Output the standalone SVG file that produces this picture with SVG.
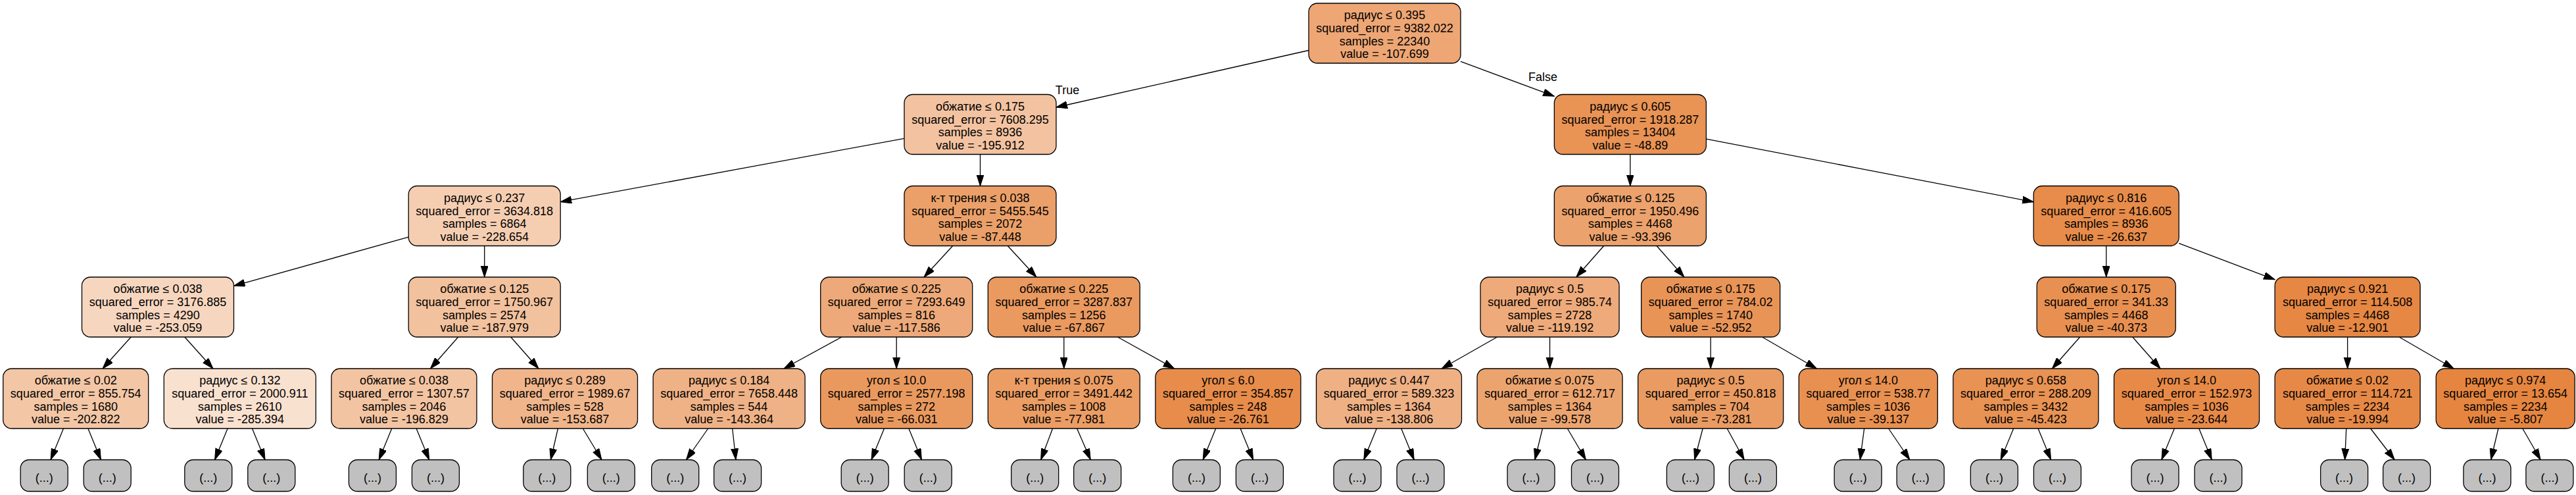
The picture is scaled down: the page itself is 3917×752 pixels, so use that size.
<svg xmlns="http://www.w3.org/2000/svg" width="3917" height="752" viewBox="0 0 3917 752">
<defs>
<style>
.n rect{stroke:#000;stroke-width:1.3}
.n text{font-family:"Liberation Sans",Arial,Helvetica,sans-serif;font-size:18px;text-anchor:middle;fill:#000}
.lf rect{fill:#c0c0c0}
.e path{fill:none;stroke:#000;stroke-width:1.3;marker-end:url(#ah)}
.el{font-family:"Liberation Sans",Arial,Helvetica,sans-serif;font-size:18px;text-anchor:middle;fill:#000}
</style>
<marker id="ah" markerWidth="18" markerHeight="12" refX="17" refY="5.5" orient="auto" markerUnits="userSpaceOnUse"><path d="M0,0 L17,5.5 L0,11 z" fill="#000" stroke="#000" stroke-width="1"/></marker>
</defs>
<rect width="3917" height="752" fill="#fff"/>
<g id="connectors" class="e">
<path d="M1990,76.5 L1606,163"/>
<path d="M2221,93.3 L2363.4,146.2"/>
<path d="M1375,210.3 L852.2,306.7"/>
<path d="M1490.5,234.5 L1490.5,282.5"/>
<path d="M2478.9,234.5 L2478.9,282.5"/>
<path d="M2594.4,211.2 L3092.2,306.8"/>
<path d="M621.2,360.2 L355.5,434.3"/>
<path d="M736.7,373.5 L736.7,421"/>
<path d="M1448.7,373.5 L1405,421"/>
<path d="M1532.3,373.5 L1576,421"/>
<path d="M2438.7,373.5 L2396.8,421"/>
<path d="M2519.1,373.5 L2561,421"/>
<path d="M3202.7,373.5 L3202.7,421"/>
<path d="M3313.2,369.7 L3459.1,424.8"/>
<path d="M199.2,512 L156,560"/>
<path d="M280.8,512 L324,560"/>
<path d="M696.7,512 L654.4,560"/>
<path d="M776.7,512 L819,560"/>
<path d="M1279.9,512 L1191.9,560"/>
<path d="M1363.2,512 L1363.2,560"/>
<path d="M1617.8,512 L1617.8,560"/>
<path d="M1699.5,512 L1785.7,560"/>
<path d="M2276.5,512 L2192.1,560"/>
<path d="M2356.6,512 L2356.6,560"/>
<path d="M2601.2,512 L2601.2,560"/>
<path d="M2679.6,512 L2762.4,560"/>
<path d="M3162.7,512 L3120.4,560"/>
<path d="M3242.7,512 L3285,560"/>
<path d="M3569.6,512 L3569.6,560"/>
<path d="M3648.2,512 L3731.1,560"/>
<path d="M96.5,651 L77,698.5"/><path d="M133.9,651 L153.4,698.5"/>
<path d="M346.1,651 L326.6,698.5"/><path d="M383.5,651 L403,698.5"/>
<path d="M595.7,651 L576.2,698.5"/><path d="M633.1,651 L652.6,698.5"/>
<path d="M848.4,651 L837.4,698.5"/><path d="M886.3,651 L914.9,698.5"/>
<path d="M1076.7,651 L1043.5,698.5"/><path d="M1113.7,651 L1118.9,698.5"/>
<path d="M1344.5,651 L1325,698.5"/><path d="M1381.9,651 L1401.4,698.5"/>
<path d="M1600.6,651 L1582.7,698.5"/><path d="M1637.6,651 L1658.3,698.5"/>
<path d="M1848.7,651 L1829.2,698.5"/><path d="M1886.1,651 L1905.6,698.5"/>
<path d="M2093.3,651 L2073.8,698.5"/><path d="M2130.7,651 L2150.2,698.5"/>
<path d="M2345.5,651 L2333.9,698.5"/><path d="M2383.4,651 L2411.4,698.5"/>
<path d="M2589.2,651 L2576.7,698.5"/><path d="M2626.2,651 L2652.2,698.5"/>
<path d="M2834.7,651 L2828.4,698.5"/><path d="M2871.7,651 L2903.9,698.5"/>
<path d="M3061.7,651 L3042.2,698.5"/><path d="M3099.1,651 L3118.6,698.5"/>
<path d="M3306.3,651 L3286.8,698.5"/><path d="M3343.7,651 L3363.2,698.5"/>
<path d="M3567.7,651 L3565.6,698.5"/><path d="M3604.6,651 L3641.1,698.5"/>
<path d="M3798.9,651 L3787.6,698.5"/><path d="M3835.8,651 L3863.1,698.5"/>
<text class="el" x="1623" y="143">True</text>
<text class="el" x="2346" y="123">False</text>
</g>
<g id="root" class="n" transform="translate(1990,5)"><rect width="231" height="91" rx="13" fill="#eda674"/><text x="115.5" y="24.3">радиус ≤ 0.395</text><text x="115.5" y="44">squared_error = 9382.022</text><text x="115.5" y="63.7">samples = 22340</text><text x="115.5" y="83.4">value = -107.699</text></g>
<g id="n1_1" class="n" transform="translate(1375,143.5)"><rect width="231" height="91" rx="13" fill="#f3c3a1"/><text x="115.5" y="24.3">обжатие ≤ 0.175</text><text x="115.5" y="44">squared_error = 7608.295</text><text x="115.5" y="63.7">samples = 8936</text><text x="115.5" y="83.4">value = -195.912</text></g>
<g id="n1_2" class="n" transform="translate(2363.4,143.5)"><rect width="231" height="91" rx="13" fill="#e99355"/><text x="115.5" y="24.3">радиус ≤ 0.605</text><text x="115.5" y="44">squared_error = 1918.287</text><text x="115.5" y="63.7">samples = 13404</text><text x="115.5" y="83.4">value = -48.89</text></g>
<g id="n2_1" class="n" transform="translate(621.2,282.5)"><rect width="231" height="91" rx="13" fill="#f5ceb2"/><text x="115.5" y="24.3">радиус ≤ 0.237</text><text x="115.5" y="44">squared_error = 3634.818</text><text x="115.5" y="63.7">samples = 6864</text><text x="115.5" y="83.4">value = -228.654</text></g>
<g id="n2_2" class="n" transform="translate(1375,282.5)"><rect width="231" height="91" rx="13" fill="#eba069"/><text x="115.5" y="24.3">к-т трения ≤ 0.038</text><text x="115.5" y="44">squared_error = 5455.545</text><text x="115.5" y="63.7">samples = 2072</text><text x="115.5" y="83.4">value = -87.448</text></g>
<g id="n2_3" class="n" transform="translate(2363.4,282.5)"><rect width="231" height="91" rx="13" fill="#eca26c"/><text x="115.5" y="24.3">обжатие ≤ 0.125</text><text x="115.5" y="44">squared_error = 1950.496</text><text x="115.5" y="63.7">samples = 4468</text><text x="115.5" y="83.4">value = -93.396</text></g>
<g id="n2_4" class="n" transform="translate(3092.2,282.5)"><rect width="221" height="91" rx="13" fill="#e78c4a"/><text x="110.5" y="24.3">радиус ≤ 0.816</text><text x="110.5" y="44">squared_error = 416.605</text><text x="110.5" y="63.7">samples = 8936</text><text x="110.5" y="83.4">value = -26.637</text></g>
<g id="n3_1" class="n" transform="translate(124.5,421)"><rect width="231" height="91" rx="13" fill="#f7d6bf"/><text x="115.5" y="24.3">обжатие ≤ 0.038</text><text x="115.5" y="44">squared_error = 3176.885</text><text x="115.5" y="63.7">samples = 4290</text><text x="115.5" y="83.4">value = -253.059</text></g>
<g id="n3_2" class="n" transform="translate(621.2,421)"><rect width="231" height="91" rx="13" fill="#f2c19d"/><text x="115.5" y="24.3">обжатие ≤ 0.125</text><text x="115.5" y="44">squared_error = 1750.967</text><text x="115.5" y="63.7">samples = 2574</text><text x="115.5" y="83.4">value = -187.979</text></g>
<g id="n3_3" class="n" transform="translate(1247.7,421)"><rect width="231" height="91" rx="13" fill="#eda979"/><text x="115.5" y="24.3">обжатие ≤ 0.225</text><text x="115.5" y="44">squared_error = 7293.649</text><text x="115.5" y="63.7">samples = 816</text><text x="115.5" y="83.4">value = -117.586</text></g>
<g id="n3_4" class="n" transform="translate(1502.3,421)"><rect width="231" height="91" rx="13" fill="#ea995f"/><text x="115.5" y="24.3">обжатие ≤ 0.225</text><text x="115.5" y="44">squared_error = 3287.837</text><text x="115.5" y="63.7">samples = 1256</text><text x="115.5" y="83.4">value = -67.867</text></g>
<g id="n3_5" class="n" transform="translate(2251.1,421)"><rect width="211" height="91" rx="13" fill="#eeaa7a"/><text x="105.5" y="24.3">радиус ≤ 0.5</text><text x="105.5" y="44">squared_error = 985.74</text><text x="105.5" y="63.7">samples = 2728</text><text x="105.5" y="83.4">value = -119.192</text></g>
<g id="n3_6" class="n" transform="translate(2495.7,421)"><rect width="211" height="91" rx="13" fill="#e99457"/><text x="105.5" y="24.3">обжатие ≤ 0.175</text><text x="105.5" y="44">squared_error = 784.02</text><text x="105.5" y="63.7">samples = 1740</text><text x="105.5" y="83.4">value = -52.952</text></g>
<g id="n3_7" class="n" transform="translate(3097.2,421)"><rect width="211" height="91" rx="13" fill="#e89051"/><text x="105.5" y="24.3">обжатие ≤ 0.175</text><text x="105.5" y="44">squared_error = 341.33</text><text x="105.5" y="63.7">samples = 4468</text><text x="105.5" y="83.4">value = -40.373</text></g>
<g id="n3_8" class="n" transform="translate(3459.1,421)"><rect width="221" height="91" rx="13" fill="#e68743"/><text x="110.5" y="24.3">радиус ≤ 0.921</text><text x="110.5" y="44">squared_error = 114.508</text><text x="110.5" y="63.7">samples = 4468</text><text x="110.5" y="83.4">value = -12.901</text></g>
<g id="n4_1" class="n" transform="translate(4.7,560)"><rect width="221" height="91" rx="13" fill="#f3c6a5"/><text x="110.5" y="24.3">обжатие ≤ 0.02</text><text x="110.5" y="44">squared_error = 855.754</text><text x="110.5" y="63.7">samples = 1680</text><text x="110.5" y="83.4">value = -202.822</text></g>
<g id="n4_2" class="n" transform="translate(249.3,560)"><rect width="231" height="91" rx="13" fill="#f9e1cf"/><text x="115.5" y="24.3">радиус ≤ 0.132</text><text x="115.5" y="44">squared_error = 2000.911</text><text x="115.5" y="63.7">samples = 2610</text><text x="115.5" y="83.4">value = -285.394</text></g>
<g id="n4_3" class="n" transform="translate(503.9,560)"><rect width="221" height="91" rx="13" fill="#f3c4a2"/><text x="110.5" y="24.3">обжатие ≤ 0.038</text><text x="110.5" y="44">squared_error = 1307.57</text><text x="110.5" y="63.7">samples = 2046</text><text x="110.5" y="83.4">value = -196.829</text></g>
<g id="n4_4" class="n" transform="translate(748.5,560)"><rect width="221" height="91" rx="13" fill="#f0b58b"/><text x="110.5" y="24.3">радиус ≤ 0.289</text><text x="110.5" y="44">squared_error = 1989.67</text><text x="110.5" y="63.7">samples = 528</text><text x="110.5" y="83.4">value = -153.687</text></g>
<g id="n4_5" class="n" transform="translate(993.1,560)"><rect width="231" height="91" rx="13" fill="#efb286"/><text x="115.5" y="24.3">радиус ≤ 0.184</text><text x="115.5" y="44">squared_error = 7658.448</text><text x="115.5" y="63.7">samples = 544</text><text x="115.5" y="83.4">value = -143.364</text></g>
<g id="n4_6" class="n" transform="translate(1247.7,560)"><rect width="231" height="91" rx="13" fill="#ea995e"/><text x="115.5" y="24.3">угол ≤ 10.0</text><text x="115.5" y="44">squared_error = 2577.198</text><text x="115.5" y="63.7">samples = 272</text><text x="115.5" y="83.4">value = -66.031</text></g>
<g id="n4_7" class="n" transform="translate(1502.3,560)"><rect width="231" height="91" rx="13" fill="#eb9d64"/><text x="115.5" y="24.3">к-т трения ≤ 0.075</text><text x="115.5" y="44">squared_error = 3491.442</text><text x="115.5" y="63.7">samples = 1008</text><text x="115.5" y="83.4">value = -77.981</text></g>
<g id="n4_8" class="n" transform="translate(1756.9,560)"><rect width="221" height="91" rx="13" fill="#e78c4a"/><text x="110.5" y="24.3">угол ≤ 6.0</text><text x="110.5" y="44">squared_error = 354.857</text><text x="110.5" y="63.7">samples = 248</text><text x="110.5" y="83.4">value = -26.761</text></g>
<g id="n4_9" class="n" transform="translate(2001.5,560)"><rect width="221" height="91" rx="13" fill="#efb084"/><text x="110.5" y="24.3">радиус ≤ 0.447</text><text x="110.5" y="44">squared_error = 589.323</text><text x="110.5" y="63.7">samples = 1364</text><text x="110.5" y="83.4">value = -138.806</text></g>
<g id="n4_10" class="n" transform="translate(2246.1,560)"><rect width="221" height="91" rx="13" fill="#eca46f"/><text x="110.5" y="24.3">обжатие ≤ 0.075</text><text x="110.5" y="44">squared_error = 612.717</text><text x="110.5" y="63.7">samples = 1364</text><text x="110.5" y="83.4">value = -99.578</text></g>
<g id="n4_11" class="n" transform="translate(2490.7,560)"><rect width="221" height="91" rx="13" fill="#ea9b62"/><text x="110.5" y="24.3">радиус ≤ 0.5</text><text x="110.5" y="44">squared_error = 450.818</text><text x="110.5" y="63.7">samples = 704</text><text x="110.5" y="83.4">value = -73.281</text></g>
<g id="n4_12" class="n" transform="translate(2735.3,560)"><rect width="211" height="91" rx="13" fill="#e89050"/><text x="105.5" y="24.3">угол ≤ 14.0</text><text x="105.5" y="44">squared_error = 538.77</text><text x="105.5" y="63.7">samples = 1036</text><text x="105.5" y="83.4">value = -39.137</text></g>
<g id="n4_13" class="n" transform="translate(2969.9,560)"><rect width="221" height="91" rx="13" fill="#e89253"/><text x="110.5" y="24.3">радиус ≤ 0.658</text><text x="110.5" y="44">squared_error = 288.209</text><text x="110.5" y="63.7">samples = 3432</text><text x="110.5" y="83.4">value = -45.423</text></g>
<g id="n4_14" class="n" transform="translate(3214.5,560)"><rect width="221" height="91" rx="13" fill="#e78a48"/><text x="110.5" y="24.3">угол ≤ 14.0</text><text x="110.5" y="44">squared_error = 152.973</text><text x="110.5" y="63.7">samples = 1036</text><text x="110.5" y="83.4">value = -23.644</text></g>
<g id="n4_15" class="n" transform="translate(3459.1,560)"><rect width="221" height="91" rx="13" fill="#e78946"/><text x="110.5" y="24.3">обжатие ≤ 0.02</text><text x="110.5" y="44">squared_error = 114.721</text><text x="110.5" y="63.7">samples = 2234</text><text x="110.5" y="83.4">value = -19.994</text></g>
<g id="n4_16" class="n" transform="translate(3704.2,560)"><rect width="211" height="91" rx="13" fill="#e6853f"/><text x="105.5" y="24.3">радиус ≤ 0.974</text><text x="105.5" y="44">squared_error = 13.654</text><text x="105.5" y="63.7">samples = 2234</text><text x="105.5" y="83.4">value = -5.807</text></g>
<g id="leaves" class="n lf">
<g id="l1" transform="translate(31.2,698.5)"><rect width="72" height="48" rx="13"/><text x="36" y="33">(...)</text></g>
<g id="l2" transform="translate(127.2,698.5)"><rect width="72" height="48" rx="13"/><text x="36" y="33">(...)</text></g>
<g id="l3" transform="translate(280.8,698.5)"><rect width="72" height="48" rx="13"/><text x="36" y="33">(...)</text></g>
<g id="l4" transform="translate(376.8,698.5)"><rect width="72" height="48" rx="13"/><text x="36" y="33">(...)</text></g>
<g id="l5" transform="translate(530.4,698.5)"><rect width="72" height="48" rx="13"/><text x="36" y="33">(...)</text></g>
<g id="l6" transform="translate(626.4,698.5)"><rect width="72" height="48" rx="13"/><text x="36" y="33">(...)</text></g>
<g id="l7" transform="translate(795.8,698.5)"><rect width="72" height="48" rx="13"/><text x="36" y="33">(...)</text></g>
<g id="l8" transform="translate(893.3,698.5)"><rect width="72" height="48" rx="13"/><text x="36" y="33">(...)</text></g>
<g id="l9" transform="translate(990.7,698.5)"><rect width="72" height="48" rx="13"/><text x="36" y="33">(...)</text></g>
<g id="l10" transform="translate(1085.6,698.5)"><rect width="72" height="48" rx="13"/><text x="36" y="33">(...)</text></g>
<g id="l11" transform="translate(1279.2,698.5)"><rect width="72" height="48" rx="13"/><text x="36" y="33">(...)</text></g>
<g id="l12" transform="translate(1375.2,698.5)"><rect width="72" height="48" rx="13"/><text x="36" y="33">(...)</text></g>
<g id="l13" transform="translate(1537.7,698.5)"><rect width="72" height="48" rx="13"/><text x="36" y="33">(...)</text></g>
<g id="l14" transform="translate(1632.7,698.5)"><rect width="72" height="48" rx="13"/><text x="36" y="33">(...)</text></g>
<g id="l15" transform="translate(1783.4,698.5)"><rect width="72" height="48" rx="13"/><text x="36" y="33">(...)</text></g>
<g id="l16" transform="translate(1879.4,698.5)"><rect width="72" height="48" rx="13"/><text x="36" y="33">(...)</text></g>
<g id="l17" transform="translate(2028,698.5)"><rect width="72" height="48" rx="13"/><text x="36" y="33">(...)</text></g>
<g id="l18" transform="translate(2124,698.5)"><rect width="72" height="48" rx="13"/><text x="36" y="33">(...)</text></g>
<g id="l19" transform="translate(2292.1,698.5)"><rect width="72" height="48" rx="13"/><text x="36" y="33">(...)</text></g>
<g id="l20" transform="translate(2389.5,698.5)"><rect width="72" height="48" rx="13"/><text x="36" y="33">(...)</text></g>
<g id="l21" transform="translate(2534.4,698.5)"><rect width="72" height="48" rx="13"/><text x="36" y="33">(...)</text></g>
<g id="l22" transform="translate(2629.4,698.5)"><rect width="72" height="48" rx="13"/><text x="36" y="33">(...)</text></g>
<g id="l23" transform="translate(2789.2,698.5)"><rect width="72" height="48" rx="13"/><text x="36" y="33">(...)</text></g>
<g id="l24" transform="translate(2884.2,698.5)"><rect width="72" height="48" rx="13"/><text x="36" y="33">(...)</text></g>
<g id="l25" transform="translate(2996.4,698.5)"><rect width="72" height="48" rx="13"/><text x="36" y="33">(...)</text></g>
<g id="l26" transform="translate(3092.4,698.5)"><rect width="72" height="48" rx="13"/><text x="36" y="33">(...)</text></g>
<g id="l27" transform="translate(3241,698.5)"><rect width="72" height="48" rx="13"/><text x="36" y="33">(...)</text></g>
<g id="l28" transform="translate(3337,698.5)"><rect width="72" height="48" rx="13"/><text x="36" y="33">(...)</text></g>
<g id="l29" transform="translate(3528.6,698.5)"><rect width="72" height="48" rx="13"/><text x="36" y="33">(...)</text></g>
<g id="l30" transform="translate(3623.6,698.5)"><rect width="72" height="48" rx="13"/><text x="36" y="33">(...)</text></g>
<g id="l31" transform="translate(3745.9,698.5)"><rect width="72" height="48" rx="13"/><text x="36" y="33">(...)</text></g>
<g id="l32" transform="translate(3840.9,698.5)"><rect width="72" height="48" rx="13"/><text x="36" y="33">(...)</text></g>
</g>
</svg>
